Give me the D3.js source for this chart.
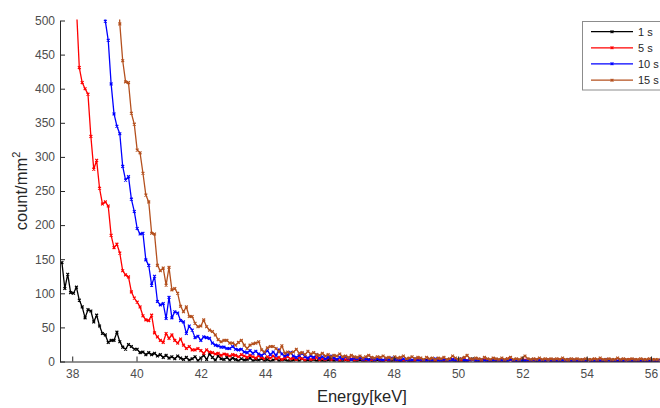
<!DOCTYPE html>
<html>
<head>
<meta charset="utf-8">
<script src="https://cdn.jsdelivr.net/npm/d3@7"></script>
<style>
  html, body { margin: 0; padding: 0; background: #fff; }
  svg { display: block; }
  text { font-family: "Liberation Sans", Arial, Helvetica, sans-serif; }
</style>
</head>
<body>
<svg id="chart" width="660" height="408"></svg>
<script>
// ---------- DATA ----------
const energies = [
37.68,37.77,37.86,37.95,38.04,38.13,38.22,38.31,38.40,38.49,
38.58,38.67,38.76,38.85,38.94,39.03,39.12,39.21,39.30,39.39,
39.48,39.57,39.66,39.75,39.84,39.93,40.02,40.11,40.20,40.29,
40.38,40.47,40.56,40.65,40.74,40.83,40.92,41.01,41.10,41.19,
41.28,41.37,41.46,41.55,41.64,41.73,41.82,41.91,42.00,42.09,
42.18,42.27,42.36,42.45,42.54,42.63,42.72,42.81,42.90,42.99,
43.08,43.17,43.26,43.35,43.44,43.53,43.62,43.71,43.80,43.89,
43.98,44.07,44.16,44.25,44.34,44.43,44.52,44.61,44.70,44.79,
44.88,44.97,45.06,45.15,45.24,45.33,45.42,45.51,45.60,45.69,
45.78,45.87,45.96,46.05,46.14,46.23,46.32,46.41,46.50,46.59,
46.68,46.77,46.86,46.95,47.04,47.13,47.22,47.31,47.40,47.49,
47.58,47.67,47.76,47.85,47.94,48.03,48.12,48.21,48.30,48.39,
48.48,48.57,48.66,48.75,48.84,48.93,49.02,49.11,49.20,49.29,
49.38,49.47,49.56,49.65,49.74,49.83,49.92,50.01,50.10,50.19,
50.28,50.37,50.46,50.55,50.64,50.73,50.82,50.91,51.00,51.09,
51.18,51.27,51.36,51.45,51.54,51.63,51.72,51.81,51.90,51.99,
52.08,52.17,52.26,52.35,52.44,52.53,52.62,52.71,52.80,52.89,
52.98,53.07,53.16,53.25,53.34,53.43,53.52,53.61,53.70,53.79,
53.88,53.97,54.06,54.15,54.24,54.33,54.42,54.51,54.60,54.69,
54.78,54.87,54.96,55.05,55.14,55.23,55.32,55.41,55.50,55.59,
55.68,55.77,55.86,55.95,56.04,56.13,56.22
];

const series1s = [
145,107,128,101,100,109,90,80,64,76,
74,58,68,52,41,39,28,31,31,43,
29,21,18,25,22,18,18,13,14,10,
13,10,12,8,10,6,9,5,7,4,
8,5,3,6,2,4,7,1,5,9,
3,11,6,2,8,4,3,6,2,5,
3,1,4,2,3,5,1,3,2,4,
1,3,0,2,4,1,2,3,1,0,
2,3,1,4,1,2,0,3,1,2,
1,0,2,3,1,2,1,0,2,1,
3,1,0,2,1,1,3,0,1,2,
0,1,2,1,0,3,1,0,1,2,
0,1,1,3,0,1,2,0,1,0,
2,1,0,1,3,1,0,2,1,0,
1,2,4,1,0,1,2,0,1,1,
0,2,1,0,1,3,1,0,1,0,
1,0,2,1,0,1,0,1,2,0,
1,0,1,0,2,1,0,1,0,1,
0,1,2,0,1,0,1,0,1,2,
0,1,0,1,0,2,1,0,1,0,
1,0,1,0,1,0,1
];

const series5s = [
null,null,null,null,900,520,431,409,400,392,
330,282,295,254,231,234,228,185,167,172,
159,133,127,124,102,93,87,80,67,61,
60,68,42,36,31,28,41,34,39,31,
27,33,24,19,22,17,17,19,16,12,
17,14,13,11,12,9,11,10,8,10,
9,7,10,8,6,9,7,5,8,6,
4,7,5,8,4,6,3,5,7,4,
5,3,6,4,2,5,3,4,6,2,
4,3,5,2,4,3,1,4,3,2,
4,2,3,5,2,3,1,3,2,4,
2,1,3,2,4,1,2,3,1,2,
3,1,2,4,1,2,1,3,2,1,
2,3,1,2,1,3,2,1,2,4,
1,2,3,1,2,1,3,2,1,2,
3,1,2,1,4,2,1,2,1,3,
2,1,1,2,3,1,2,1,2,1,
2,1,3,1,1,2,1,2,1,1,
2,1,2,1,3,1,1,2,1,2,
1,2,1,1,2,1,3,1,2,1,
1,2,1,1,2,1,1
];

const series10s = [
null,null,null,null,null,null,null,null,null,null,
null,null,null,null,620,499,471,407,363,345,
334,286,266,271,238,220,195,187,188,149,
141,112,125,88,83,85,63,94,64,73,
71,60,58,41,52,46,35,37,31,36,
35,34,27,24,23,21,21,19,19,22,
18,17,18,14,13,16,12,15,11,9,
12,16,10,14,9,17,11,8,10,13,
8,6,9,12,7,5,8,6,10,5,
7,4,6,8,5,3,6,4,7,5,
3,5,4,6,3,4,2,5,3,4,
3,2,4,3,5,2,3,1,4,2,
3,2,4,1,3,2,1,3,2,4,
1,2,3,2,1,3,2,1,4,2,
1,3,2,1,2,3,1,2,1,2,
3,1,2,2,1,3,1,2,1,2,
1,2,1,3,1,2,1,1,2,1,
2,1,1,2,1,3,1,2,1,1,
2,1,2,1,1,2,1,1,3,1,
2,1,1,2,1,2,1,1,2,1,
1,2,1,1,2,1,1
];

const series15s = [
null,null,null,null,null,null,null,null,null,null,
null,null,null,null,null,null,null,null,null,620,
495,441,410,409,364,348,310,306,276,244,
234,188,187,141,133,137,112,138,105,107,
100,81,73,80,66,66,56,51,52,61,
51,46,44,39,32,29,31,31,27,27,
24,28,31,24,19,24,26,27,29,17,
14,20,22,22,19,14,23,12,14,12,
14,18,12,13,10,15,11,13,10,9,
12,8,10,7,9,8,11,7,8,6,
9,7,6,8,5,7,9,6,5,7,
6,8,5,6,4,7,5,6,8,4,
5,7,4,6,5,3,6,4,5,3,
5,4,6,3,4,8,5,3,4,6,
9,4,3,5,4,3,6,4,3,5,
4,3,5,3,4,6,3,4,3,5,
8,4,3,4,3,5,3,4,3,4,
3,4,3,5,3,3,4,3,4,3,
3,4,3,3,4,3,5,3,3,4,
3,3,5,3,4,3,3,4,3,3,
4,3,3,4,3,3,3
];

const seriesNames = ["1 s", "5 s", "10 s", "15 s"];
const seriesColors = ["#000000", "#ff0000", "#0000ff", "#b4501e"];
const xTicks = [38, 40, 42, 44, 46, 48, 50, 52, 54, 56];
const yTicks = [0, 50, 100, 150, 200, 250, 300, 350, 400, 450, 500];
const xLabel = "Energy[keV]";
const yLabelMain = "count/mm";
const yLabelSup = "2";

// ---------- DRAW ----------
const svg = d3.select("#chart");
const L = 60, R = 659.7, T = 20.5, B = 361.5;

const x = d3.scaleLinear().domain([37.62, 56.27]).range([L, R]);
const y = d3.scaleLinear().domain([0, 500]).range([B, T]);

svg.append("defs").append("clipPath").attr("id", "plotclip")
  .append("rect").attr("x", L).attr("y", T - 1).attr("width", R - L + 1).attr("height", B - T + 1);

const allSeries = [series1s, series5s, series10s, series15s];

const gPlot = svg.append("g").attr("clip-path", "url(#plotclip)");
const line = d3.line()
  .defined(d => d[1] !== null)
  .x(d => x(d[0]))
  .y(d => y(d[1]));

function markerPath(cx, cy, s) {
  return `M${cx - s},${cy - s}L${cx + s},${cy + s}M${cx - s},${cy + s}L${cx + s},${cy - s}`;
}

allSeries.forEach((vals, si) => {
  const pts = energies.map((e, i) => [e, vals[i]]);
  const g = gPlot.append("g");
  g.append("path")
    .attr("d", line(pts))
    .attr("fill", "none")
    .attr("stroke", seriesColors[si])
    .attr("stroke-width", 1.3)
    .attr("stroke-linejoin", "round");
  g.append("path")
    .attr("d", pts.filter(p => p[1] !== null).map(p => markerPath(x(p[0]), y(p[1]), 1.4)).join(""))
    .attr("fill", "none")
    .attr("stroke", seriesColors[si])
    .attr("stroke-width", 1.2);
});

// axes
const axisColor = "#262626";
const tickTextColor = "#4d4d4d";

const xAxis = d3.axisBottom(x).tickValues(xTicks).tickSize(-5).tickSizeOuter(0).tickPadding(8).tickFormat(d3.format("d"));
const gx = svg.append("g").attr("transform", `translate(0,${B})`).call(xAxis);
gx.select(".domain").attr("stroke", axisColor).attr("d", `M${L},0.5H${R + 1}`);
gx.selectAll(".tick line").attr("stroke", axisColor);
gx.selectAll(".tick text").attr("fill", tickTextColor).attr("font-size", 12)
  .attr("font-family", "Liberation Sans, Arial, sans-serif");

const yAxis = d3.axisLeft(y).tickValues(yTicks).tickSize(-5).tickSizeOuter(0).tickPadding(5).tickFormat(d3.format("d"));
const gy = svg.append("g").attr("transform", `translate(${L},0)`).call(yAxis);
gy.select(".domain").attr("stroke", axisColor);
gy.selectAll(".tick line").attr("stroke", axisColor);
gy.selectAll(".tick text").attr("fill", tickTextColor).attr("font-size", 12)
  .attr("font-family", "Liberation Sans, Arial, sans-serif");

// axis labels
svg.append("text")
  .attr("x", (L + R) / 2 + 2).attr("y", 402)
  .attr("text-anchor", "middle")
  .attr("font-size", 16.5).attr("fill", axisColor)
  .text(xLabel);

const yl = svg.append("text")
  .attr("transform", `translate(27,${(T + B) / 2}) rotate(-90)`)
  .attr("text-anchor", "middle")
  .attr("font-size", 16.5).attr("fill", axisColor);
yl.append("tspan").text(yLabelMain);
yl.append("tspan").attr("font-size", 11).attr("dy", -7).text(yLabelSup);

// legend
const lg = svg.append("g");
lg.append("rect").attr("x", 582.5).attr("y", 21.5).attr("width", 80).attr("height", 68.5)
  .attr("fill", "#fff").attr("stroke", "#8c8c8c").attr("stroke-width", 1);
const legY = [31.7, 47.8, 63.8, 80.2];
seriesNames.forEach((name, i) => {
  lg.append("line").attr("x1", 591).attr("x2", 633).attr("y1", legY[i]).attr("y2", legY[i])
    .attr("stroke", seriesColors[i]).attr("stroke-width", 1.2);
  lg.append("path").attr("d", markerPath(612, legY[i], 1.4))
    .attr("stroke", seriesColors[i]).attr("stroke-width", 1.2).attr("fill", "none");
  lg.append("text").attr("x", 638).attr("y", legY[i] + 4)
    .attr("font-size", 11).attr("fill", "#262626").text(name);
});
</script>
</body>
</html>
